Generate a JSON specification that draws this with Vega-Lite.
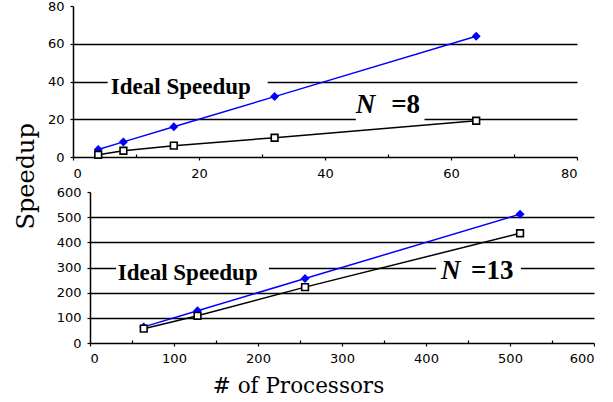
{
  "$schema": "https://vega.github.io/schema/vega-lite/v6.json",
  "padding": {"left": 14, "top": 0, "right": 0, "bottom": 0},
  "spacing": 6,
  "background": "white",
  "title": {"text": "Speedup", "orient": "left", "anchor": "middle", "font": "DejaVu Serif", "fontSize": 24, "fontWeight": "normal", "color": "black", "offset": 4, "dx": 22},
  "config": {
    "view": {"stroke": null},
    "axis": {"labelFont": "DejaVu Sans", "labelFontSize": 13, "labelColor": "black", "domainColor": "black", "domainWidth": 1.5, "tickColor": "black", "tickWidth": 1.2, "titleFont": "DejaVu Serif", "titleFontWeight": "normal", "titleColor": "black"}
  },
  "datasets": {
    "n8": [
      {"p": 4, "v": 4, "s": "Ideal"}, {"p": 8, "v": 8, "s": "Ideal"}, {"p": 16, "v": 16, "s": "Ideal"}, {"p": 32, "v": 32, "s": "Ideal"}, {"p": 64, "v": 64, "s": "Ideal"},
      {"p": 4, "v": 1.2, "s": "Measured"}, {"p": 8, "v": 3.3, "s": "Measured"}, {"p": 16, "v": 6.0, "s": "Measured"}, {"p": 32, "v": 10.2, "s": "Measured"}, {"p": 64, "v": 19.2, "s": "Measured"}
    ],
    "n13": [
      {"p": 64, "v": 64, "s": "Ideal"}, {"p": 128, "v": 128, "s": "Ideal"}, {"p": 256, "v": 256, "s": "Ideal"}, {"p": 512, "v": 512, "s": "Ideal"},
      {"p": 64, "v": 57, "s": "Measured"}, {"p": 128, "v": 108, "s": "Measured"}, {"p": 256, "v": 222, "s": "Measured"}, {"p": 512, "v": 436, "s": "Measured"}
    ],
    "n8boxes": [{"p": 5.5, "p2": 30.9, "v": 35, "v2": 45}, {"p": 44.9, "p2": 55.8, "v": 18.3, "v2": 23.5}],
    "n13boxes": [{"p": 31, "p2": 213, "v": 280, "v2": 320}, {"p": 412, "p2": 513, "v": 280, "v2": 320}],
    "n8text": [{"p": 6.0, "v": 33.4, "t": "Ideal Speedup", "k": "label"}, {"p": 44.9, "v": 23.15, "t": "N", "k": "n"}, {"p": 50.5, "v": 23.15, "t": "=8", "k": "eq"}],
    "n13text": [{"p": 33, "v": 251.5, "t": "Ideal Speedup", "k": "label"}, {"p": 418, "v": 255.5, "t": "N", "k": "n"}, {"p": 453.6, "v": 255.5, "t": "=13", "k": "eq"}]
  },
  "vconcat": [
    {
      "width": 504,
      "height": 151,
      "encoding": {
        "x": {"field": "p", "type": "quantitative", "scale": {"domain": [0, 80], "nice": false, "zero": false},
          "axis": {"values": [0, 10, 20, 30, 40, 50, 60, 70, 80], "labelExpr": "datum.value % 20 === 0 ? datum.label : ''", "tickSize": {"condition": {"test": "datum.value % 20 !== 0", "value": -3}, "value": 3}, "labelPadding": 7, "title": null, "grid": false}},
        "y": {"field": "v", "type": "quantitative", "scale": {"domain": [0, 80], "nice": false},
          "axis": {"values": [0, 20, 40, 60, 80], "grid": true, "gridColor": "black", "gridWidth": 1.6, "gridOpacity": {"condition": {"test": "datum.value === 0 || datum.value === 80", "value": 0}, "value": 1}, "tickSize": 3, "labelPadding": 6, "title": null, "minExtent": 30}}
      },
      "layer": [
        {"data": {"name": "n8boxes"}, "mark": {"type": "rect", "fill": "white"}, "encoding": {"x2": {"field": "p2"}, "y2": {"field": "v2"}}},
        {"data": {"name": "n8"}, "mark": {"type": "line", "strokeWidth": 1.5}, "encoding": {"color": {"field": "s", "type": "nominal", "scale": {"domain": ["Ideal", "Measured"], "range": ["#0000ff", "#000000"]}, "legend": null}}},
        {"data": {"name": "n8"}, "mark": {"type": "point", "filled": false, "size": 45, "strokeWidth": 1.6, "opacity": 1},
          "encoding": {
            "shape": {"field": "s", "type": "nominal", "scale": {"domain": ["Ideal", "Measured"], "range": ["diamond", "square"]}, "legend": null},
            "fill": {"field": "s", "type": "nominal", "scale": {"domain": ["Ideal", "Measured"], "range": ["#0000ff", "#ffffff"]}, "legend": null},
            "stroke": {"field": "s", "type": "nominal", "scale": {"domain": ["Ideal", "Measured"], "range": ["#0000ff", "#000000"]}, "legend": null}
          }},
        {"data": {"name": "n8text"}, "transform": [{"filter": "datum.k === 'label'"}], "mark": {"type": "text", "font": "Liberation Serif", "fontWeight": "bold", "fontSize": 23, "align": "left", "baseline": "alphabetic", "color": "black"}, "encoding": {"text": {"field": "t"}}},
        {"data": {"name": "n8text"}, "transform": [{"filter": "datum.k === 'n'"}], "mark": {"type": "text", "font": "Liberation Serif", "fontWeight": "bold", "fontStyle": "italic", "fontSize": 27, "align": "left", "baseline": "alphabetic", "color": "black"}, "encoding": {"text": {"field": "t"}}},
        {"data": {"name": "n8text"}, "transform": [{"filter": "datum.k === 'eq'"}], "mark": {"type": "text", "font": "Liberation Serif", "fontWeight": "bold", "fontSize": 27, "align": "left", "baseline": "alphabetic", "color": "black"}, "encoding": {"text": {"field": "t"}}}
      ]
    },
    {
      "width": 521,
      "height": 151,
      "encoding": {
        "x": {"field": "p", "type": "quantitative", "scale": {"domain": [0, 600], "range": [17, 521], "nice": false, "zero": false},
          "axis": {"values": [0, 50, 100, 150, 200, 250, 300, 350, 400, 450, 500, 550, 600], "labelExpr": "datum.value % 100 === 0 ? datum.label : ''", "tickSize": {"condition": {"test": "datum.value % 100 !== 0", "value": -3}, "value": 3}, "labelPadding": 6, "grid": false,
            "title": "# of Processors", "titleFontSize": 21.5, "titleX": 225, "titleY": 49, "titleAlign": "center", "titleBaseline": "alphabetic"}},
        "y": {"field": "v", "type": "quantitative", "scale": {"domain": [0, 600], "nice": false},
          "axis": {"values": [0, 100, 200, 300, 400, 500, 600], "offset": -17, "grid": true, "gridColor": "black", "gridWidth": 1.6, "gridOpacity": {"condition": {"test": "datum.value === 0 || datum.value === 600", "value": 0}, "value": 1}, "tickSize": 3, "labelPadding": 6, "title": null}}
      },
      "layer": [
        {"data": {"name": "n13boxes"}, "mark": {"type": "rect", "fill": "white"}, "encoding": {"x2": {"field": "p2"}, "y2": {"field": "v2"}}},
        {"data": {"name": "n13"}, "mark": {"type": "line", "strokeWidth": 1.5}, "encoding": {"color": {"field": "s", "type": "nominal", "scale": {"domain": ["Ideal", "Measured"], "range": ["#0000ff", "#000000"]}, "legend": null}}},
        {"data": {"name": "n13"}, "mark": {"type": "point", "filled": false, "size": 45, "strokeWidth": 1.6, "opacity": 1},
          "encoding": {
            "shape": {"field": "s", "type": "nominal", "scale": {"domain": ["Ideal", "Measured"], "range": ["diamond", "square"]}, "legend": null},
            "fill": {"field": "s", "type": "nominal", "scale": {"domain": ["Ideal", "Measured"], "range": ["#0000ff", "#ffffff"]}, "legend": null},
            "stroke": {"field": "s", "type": "nominal", "scale": {"domain": ["Ideal", "Measured"], "range": ["#0000ff", "#000000"]}, "legend": null}
          }},
        {"data": {"name": "n13text"}, "transform": [{"filter": "datum.k === 'label'"}], "mark": {"type": "text", "font": "Liberation Serif", "fontWeight": "bold", "fontSize": 23, "align": "left", "baseline": "alphabetic", "color": "black"}, "encoding": {"text": {"field": "t"}}},
        {"data": {"name": "n13text"}, "transform": [{"filter": "datum.k === 'n'"}], "mark": {"type": "text", "font": "Liberation Serif", "fontWeight": "bold", "fontStyle": "italic", "fontSize": 27, "align": "left", "baseline": "alphabetic", "color": "black"}, "encoding": {"text": {"field": "t"}}},
        {"data": {"name": "n13text"}, "transform": [{"filter": "datum.k === 'eq'"}], "mark": {"type": "text", "font": "Liberation Serif", "fontWeight": "bold", "fontSize": 27, "align": "left", "baseline": "alphabetic", "color": "black"}, "encoding": {"text": {"field": "t"}}}
      ]
    }
  ]
}
